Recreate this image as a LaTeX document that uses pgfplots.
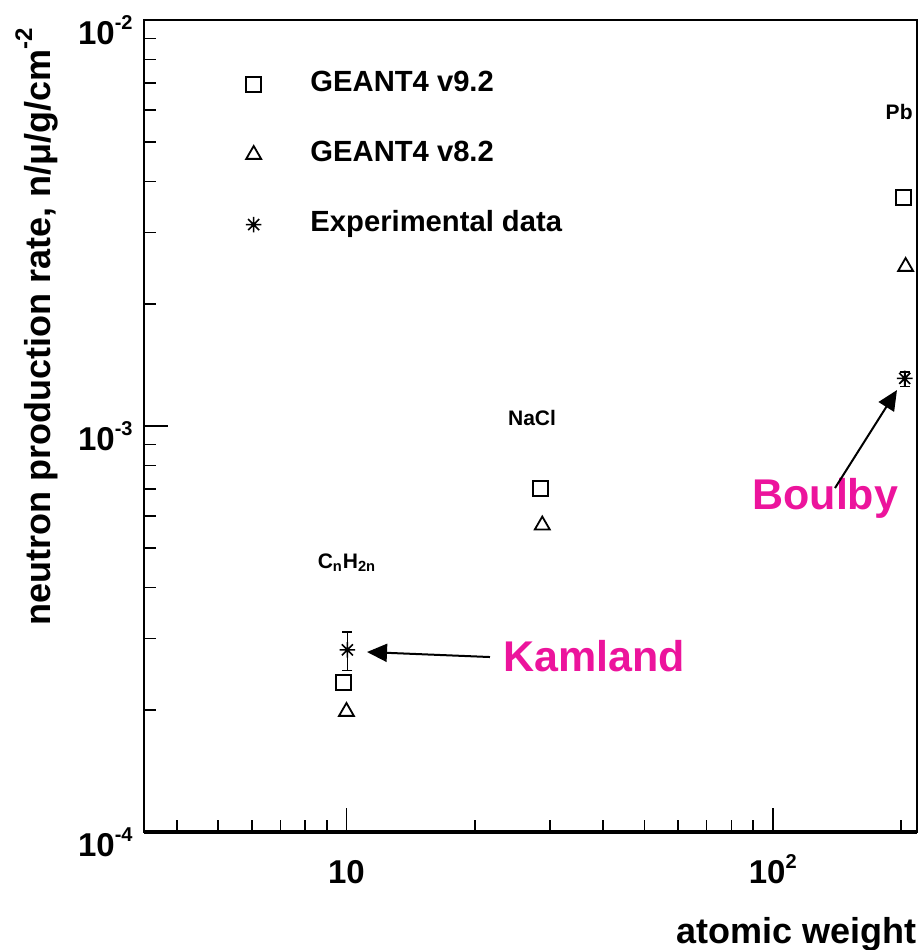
\documentclass[border=0pt]{standalone}
\usepackage{pgfplots}
\pgfplotsset{compat=1.18}
\usepackage{fontspec}
\setmainfont{Liberation Sans}
\usetikzlibrary{arrows.meta}

\definecolor{labelmag}{RGB}{236,20,156}

% power-of-ten tick label in the bold sans style
\newcommand{\pw}[1]{\textbf{10}\raisebox{7.5pt}{\fontsize{10}{12}\selectfont\bfseries #1}}

% eight-armed asterisk marker
\pgfdeclareplotmark{rstar}{%
  \pgfpathmoveto{\pgfqpoint{-\pgfplotmarksize}{0pt}}%
  \pgfpathlineto{\pgfqpoint{\pgfplotmarksize}{0pt}}%
  \pgfpathmoveto{\pgfqpoint{0pt}{-\pgfplotmarksize}}%
  \pgfpathlineto{\pgfqpoint{0pt}{\pgfplotmarksize}}%
  \pgfpathmoveto{\pgfqpoint{-.7071\pgfplotmarksize}{-.7071\pgfplotmarksize}}%
  \pgfpathlineto{\pgfqpoint{.7071\pgfplotmarksize}{.7071\pgfplotmarksize}}%
  \pgfpathmoveto{\pgfqpoint{-.7071\pgfplotmarksize}{.7071\pgfplotmarksize}}%
  \pgfpathlineto{\pgfqpoint{.7071\pgfplotmarksize}{-.7071\pgfplotmarksize}}%
  \pgfusepathqstroke}

\begin{document}
\begin{tikzpicture}
\useasboundingbox (-72pt,-59pt) rectangle (389pt,416pt);
\begin{axis}[
  scale only axis, width=386.5pt, height=406pt,
  xmode=log, ymode=log,
  xmin=3.35, xmax=218, ymin=1e-4, ymax=1e-2,
  xtick={10,100}, xticklabels={\textbf{10},\pw{2}},
  ytick={1e-4,1e-3,1e-2}, yticklabels={\pw{-4},\pw{-3},\pw{-2}},
  minor xtick={4,5,6,7,8,9,20,30,40,50,60,70,80,90,200},
  minor ytick={2e-4,3e-4,4e-4,5e-4,6e-4,7e-4,8e-4,9e-4,2e-3,3e-3,4e-3,5e-3,6e-3,7e-3,8e-3,9e-3},
  xtick pos=lower, ytick pos=left, tick align=inside,
  major tick length=12pt, minor tick length=6pt,
  every tick/.style={black, line width=0.8pt},
  axis line style={line width=1pt},
  ticklabel style={font=\fontsize{16.5}{18}\selectfont, inner sep=0pt},
  xticklabel style={anchor=base, yshift=-25.5pt},
  yticklabel style={anchor=base east, xshift=-5.5pt, yshift=-12pt},
  legend style={at={(rel axis cs:0.1313,0.937)}, anchor=north west,
    draw=none, fill=none, inner sep=0pt,
    font=\fontsize{14.6}{16}\selectfont\bfseries, row sep=22pt,
    nodes={inner sep=0pt, text height=10pt, text depth=3pt},
    /tikz/every odd column/.append style={column sep=24.5pt}},
  legend cell align=left,
  clip=false,
]
\addplot[only marks, mark=square, mark size=3.75pt, line width=0.9pt, black]
  coordinates {(9.85,2.33e-4) (28.5,7.03e-4) (203,3.66e-3)};
\addlegendentry{GEANT4 v9.2}
\addplot[only marks, mark=triangle, mark size=4.3pt, line width=0.9pt, black]
  coordinates {(10.0,1.98e-4) (28.8,5.7e-4) (205,2.47e-3)};
\addlegendentry{GEANT4 v8.2}
\addplot[only marks, mark=rstar, mark size=3.9pt, line width=0.8pt, black,
  error bars/.cd, y dir=both, y explicit,
  error bar style={line width=0.8pt},
  error mark=-, error mark options={rotate=90, line width=0.8pt, mark size=2.5pt}]
  coordinates {(10.05,2.81e-4) += (0,0.30e-4) -= (0,0.31e-4)
               (204,1.31e-3) += (0,0.05e-3) -= (0,0.06e-3)};
\addlegendentry{Experimental data}

% axis title and frame accent
\draw[line width=1.6pt] (rel axis cs:0,0) -- (rel axis cs:1,0);
\node[rotate=90, anchor=base east, inner sep=0pt, font=\fontsize{18}{20}\selectfont\bfseries]
  at (rel axis cs:-0.1216,0.99)
  {neutron production rate, n/μ/g/cm\raisebox{9pt}{\fontsize{12}{14}\selectfont -2}};
\node[anchor=base east, inner sep=0pt, font=\fontsize{18}{20}\selectfont\bfseries]
  at (rel axis cs:1.0,-0.1367) {atomic weight};

% material labels
\node[font=\fontsize{10.5}{12}\selectfont\bfseries, inner sep=0pt]
  at (rel axis cs:0.502,0.510) {NaCl};
\node[font=\fontsize{10.5}{12}\selectfont\bfseries, inner sep=0pt, anchor=base]
  at (rel axis cs:0.2626,0.325) {C\textsubscript{n}H\textsubscript{2n}};
\node[font=\fontsize{10.5}{12}\selectfont\bfseries, inner sep=0pt, anchor=east]
  at (rel axis cs:0.9948,0.8867) {Pb};

% experiment annotations
\node[font=\fontsize{21.5}{24}\selectfont\bfseries, text=labelmag, inner sep=0pt, anchor=base west]
  at (rel axis cs:0.4644,0.1983) {Kamland};
\node[font=\fontsize{21.5}{24}\selectfont\bfseries, text=labelmag, inner sep=0pt, anchor=base west]
  at (rel axis cs:0.7866,0.3978) {Boulby};
\draw[line width=1pt, -{Triangle[length=10pt,width=9pt]}]
  (rel axis cs:0.4476,0.2155) -- (rel axis cs:0.2885,0.2217);
\draw[line width=1pt, -{Triangle[length=10pt,width=9pt]}]
  (rel axis cs:0.8939,0.4236) -- (rel axis cs:0.9741,0.5443);
\end{axis}
\end{tikzpicture}
\end{document}
